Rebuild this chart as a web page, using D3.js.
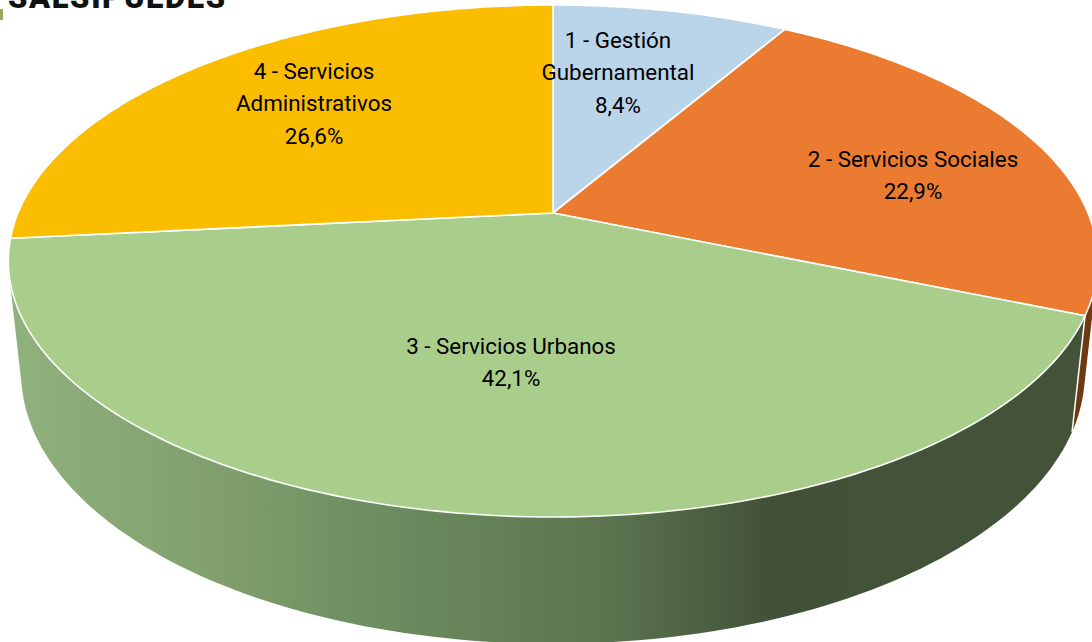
<!DOCTYPE html>
<html><head><meta charset="utf-8">
<script src="https://cdnjs.cloudflare.com/ajax/libs/d3/7.8.5/d3.min.js"></script>
<style>html,body{margin:0;padding:0;background:#fff;overflow:hidden}svg{display:block}text{font-family:Roboto,sans-serif}</style>
</head><body><svg id="c" width="1092" height="642"></svg>
<script>
const categories = ["1 - Gestión Gubernamental","2 - Servicios Sociales","3 - Servicios Urbanos","4 - Servicios Administrativos"];
const values = [8.4,22.9,42.1,26.6];
const valueLabels = ["8,4%","22,9%","42,1%","26,6%"];
const labelLines = [["1 - Gestión","Gubernamental","8,4%"],["2 - Servicios Sociales","22,9%"],["3 - Servicios Urbanos","42,1%"],["4 - Servicios","Administrativos","26,6%"]];
const labelAnchors = [[618,39],[913,158],[511,345],[314,70]];
const topColors = ["#bad4ea","#eb7b30","#a9ce8c","#fbbd00"];
const title = "SALSIPUEDES";

const svg = d3.select("#c");
const defs = svg.append("defs");
const grad = defs.append("linearGradient").attr("id","sideGrad").attr("gradientUnits","userSpaceOnUse")
  .attr("x1",20).attr("x2",1080).attr("y1",0).attr("y2",0);
[[0,"#8fb17c"],[0.2,"#7f9e6c"],[0.36,"#6b8a5e"],[0.55,"#5c7550"],[0.72,"#404f36"],[0.8,"#435339"],[1,"#435339"]].forEach(s=>grad.append("stop").attr("offset",s[0]).attr("stop-color",s[1]));

// perspective projection of the pie disc
const ax=553, ay=213, A=535, B=247, k=0.1875, m=0.0233, C=113;
function proj(theta,h){const u=Math.sin(theta),v=Math.cos(theta),w=1+k*v+m*h;return [ax+A*u/w, ay+(-B*v+C*h)/w];}
const arcs = d3.pie().sort(null).startAngle(0).endAngle(2*Math.PI)(values);
const line = d3.line();
const pts=(a0,a1,h)=>d3.range(0,121).map(i=>proj(a0+(a1-a0)*i/120,h));
const hull=(a0,a1)=>line(d3.polygonHull([...pts(a0,a1,0),...pts(a0,a1,1)]))+"Z";

// title cut by the top of the frame
svg.append("rect").attr("x",0).attr("y",9).attr("width",3).attr("height",11).attr("fill","#9aa860");
svg.append("text").attr("x",8).attr("y",8).attr("font-size",31).attr("font-weight",900).attr("letter-spacing",1.6).attr("fill","#111").text(title);

// side walls
const brown=arcs[1], green=arcs[2];
svg.append("path").attr("d",hull(brown.startAngle+0.9,brown.endAngle)).attr("fill","#6f3a12");
svg.append("path").attr("d",hull(green.startAngle,green.endAngle)).attr("fill","url(#sideGrad)");
svg.append("path").attr("d",line([proj(green.startAngle,0),proj(green.startAngle,1)])).attr("stroke","#fff").attr("stroke-width",1.5).attr("fill","none");

// top faces
arcs.forEach((d,i)=>{
  svg.append("path").attr("d",line([[ax,ay],...pts(d.startAngle,d.endAngle,0)])+"Z")
    .attr("fill",topColors[i]).attr("stroke","#fff").attr("stroke-width",1.6).attr("stroke-linejoin","round");
});

// labels
labelLines.forEach((ls,i)=>{
  ls.forEach((t,j)=>{
    svg.append("text").attr("x",labelAnchors[i][0]).attr("y",labelAnchors[i][1]+3+j*32.5)
      .attr("text-anchor","middle").attr("dominant-baseline","middle").attr("font-size",22.4).attr("fill","#000").text(t);
  });
});
</script></body></html>
